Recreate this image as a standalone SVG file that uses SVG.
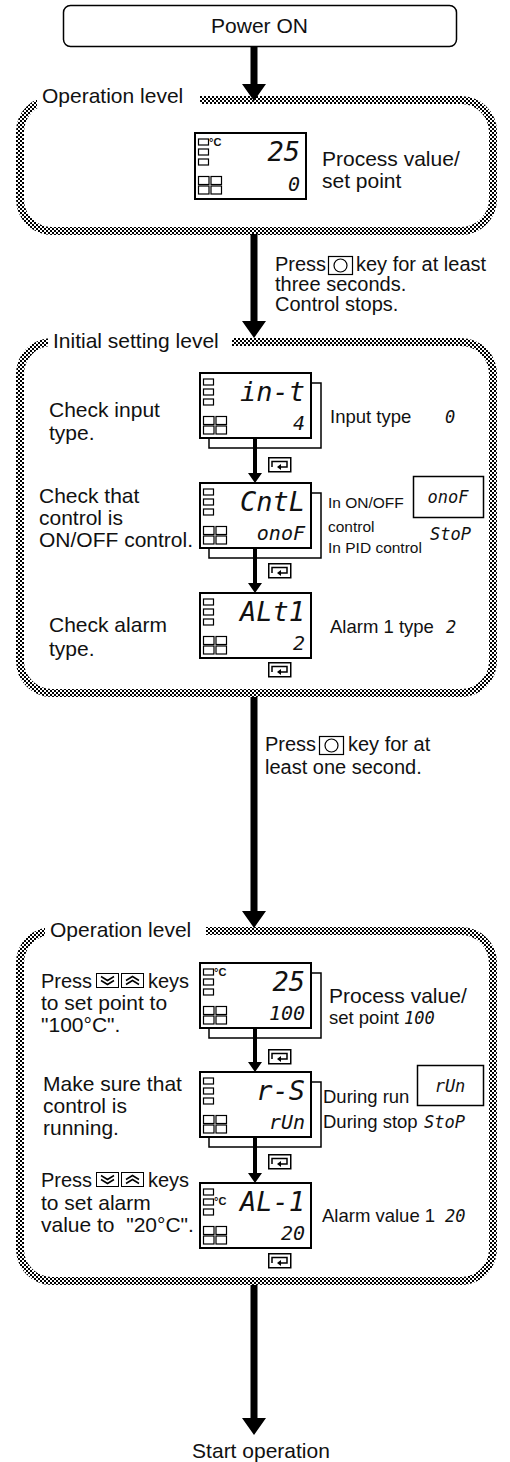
<svg xmlns="http://www.w3.org/2000/svg" width="510" height="1462" viewBox="0 0 510 1462">
<style>
.box{fill:#fff;stroke:#000;stroke-width:2}
.sh{fill:none;stroke:#000;stroke-width:1.5}
.lvl{fill:none;stroke:url(#dots);stroke-width:8}
.mask{fill:#fff}
.ind rect{fill:#fff;stroke:#000;stroke-width:1.2}
.t{font-family:"Liberation Sans",Arial,sans-serif;font-size:21px;fill:#111}
.p{font-size:20px}
.r{font-size:18.5px}
.sm{font-size:15.5px}
.sg{font-family:"DejaVu Sans Mono",monospace;font-style:oblique;fill:#111}
.big{font-size:27px;text-anchor:end}
.bot{font-size:20px;text-anchor:end}
.lab{font-size:17px}
.deg{font-family:"Liberation Sans",Arial,sans-serif;font-size:11px;font-weight:bold;fill:#111}
.arr{fill:#000}
</style>
<defs>
<pattern id="dots" width="4" height="4" patternUnits="userSpaceOnUse"><rect width="4" height="4" fill="#fff"/><rect width="2" height="2" fill="#000"/><rect x="2" y="2" width="2" height="2" fill="#000"/></pattern>
<g id="cyc"><rect x="0.75" y="0.75" width="22" height="14" fill="#fff" stroke="#000" stroke-width="1.5"/><path d="M4 10V4.5H19V10H12" fill="none" stroke="#000" stroke-width="1.5"/><path d="M13 7L9 10L13 13Z" fill="#000"/></g>
<g id="okey"><rect x="0.5" y="0.5" width="24" height="18" fill="#fff" stroke="#000" stroke-width="1.2"/><circle cx="12.5" cy="9.5" r="6.5" fill="none" stroke="#000" stroke-width="1.2"/></g>
<g id="dn"><rect x="0.5" y="0.5" width="22" height="14" fill="#fff" stroke="#000" stroke-width="1"/><path d="M5 3.5L11.5 7.5L18 3.5M5 7.5L11.5 11.5L18 7.5" fill="none" stroke="#000" stroke-width="1.5"/></g>
<g id="up"><rect x="0.5" y="0.5" width="22" height="14" fill="#fff" stroke="#000" stroke-width="1"/><path d="M5 7.5L11.5 3.5L18 7.5M5 11.5L11.5 7.5L18 11.5" fill="none" stroke="#000" stroke-width="1.5"/></g>
<g id="ind" class="ind"><rect x="3.5" y="6" width="10" height="6"/><rect x="3.5" y="16" width="10" height="6"/><rect x="3.5" y="26" width="10" height="6"/><rect x="3.5" y="43.5" width="10.5" height="8"/><rect x="16" y="43.5" width="10.5" height="8"/><rect x="3.5" y="53" width="10.5" height="8"/><rect x="16" y="53" width="10.5" height="8"/></g>
</defs>
<rect width="510" height="1462" fill="#fff"/>

<!-- level frames -->
<g id="level-operation-1">
<rect class="lvl" x="20" y="100" width="473" height="131" rx="32"/>
<rect class="mask" x="37" y="92" width="163" height="16"/>
<text class="t" x="42" y="103">Operation level</text>
</g>
<g id="level-initial">
<rect class="lvl" x="20" y="342" width="473" height="351" rx="32"/>
<rect class="mask" x="48" y="334" width="184" height="16"/>
<text class="t" x="53" y="348">Initial setting level</text>
</g>
<g id="level-operation-2">
<rect class="lvl" x="20" y="931" width="473" height="350" rx="32"/>
<rect class="mask" x="45" y="923" width="161" height="16"/>
<text class="t" x="50" y="937">Operation level</text>
</g>

<!-- connectors -->
<g id="connectors">
<path class="arr" d="M250.5 46H257.5V84H266L254 101L242 84H250.5Z"/>
<path class="arr" d="M250.5 234H257.5V321H266L254 338L242 321H250.5Z"/>
<path class="arr" d="M250.5 697H257.5V911H266L254 928L242 911H250.5Z"/>
<path class="arr" d="M250.5 1285H257.5V1418H266L254 1435L242 1418H250.5Z"/>
<path class="arr" d="M253 438H257V473H262L255 483L248 473H253Z"/>
<path class="arr" d="M253 548H257V583H262L255 593L248 583H253Z"/>
<path class="arr" d="M253 1028H257V1062H262L255 1072L248 1062H253Z"/>
<path class="arr" d="M253 1137H257V1173H262L255 1183L248 1173H253Z"/>
<use href="#cyc" x="268" y="457"/>
<use href="#cyc" x="268" y="563"/>
<use href="#cyc" x="268" y="662"/>
<use href="#cyc" x="268" y="1049"/>
<use href="#cyc" x="268" y="1154"/>
<use href="#cyc" x="268" y="1253"/>
<text class="t p" x="275" y="271">Press</text><use href="#okey" x="328" y="256"/><text class="t p" x="356" y="271">key for at least</text>
<text class="t p" x="275" y="291">three seconds.</text>
<text class="t p" x="275" y="311">Control stops.</text>
<text class="t p" x="265" y="751">Press</text><use href="#okey" x="319" y="736"/><text class="t p" x="348" y="751">key for at</text>
<text class="t p" x="265" y="774">least one second.</text>
</g>

<g id="power-on">
<rect x="63.5" y="5.5" width="393" height="41" rx="7" fill="#fff" stroke="#000" stroke-width="1.5"/>
<text class="t" x="259.5" y="33" text-anchor="middle">Power ON</text>
</g>

<g id="op1-display">
<rect class="box" x="195" y="133" width="111" height="66"/>
<use href="#ind" x="195" y="133"/>
<text class="deg" x="209" y="146">°C</text>
<text class="sg big" x="300" y="161">25</text>
<text class="sg bot" x="300" y="191">0</text>
<text class="t" x="322" y="166">Process value/</text>
<text class="t" x="322" y="188">set point</text>
</g>

<g id="input-type">
<path class="sh" d="M311 383H321V448H209V438"/>
<rect class="box" x="200" y="373" width="111" height="65"/>
<use href="#ind" x="200" y="373"/>
<text class="sg big" x="305" y="401">in-t</text>
<text class="sg bot" x="305" y="430">4</text>
<text class="t" x="49" y="417">Check input</text>
<text class="t" x="49" y="440">type.</text>
<text class="t r" x="330" y="423">Input type</text>
<text class="sg lab" x="445" y="423">0</text>
</g>

<g id="control-mode">
<path class="sh" d="M311 493H321V558H209V548"/>
<rect class="box" x="200" y="483" width="111" height="65"/>
<use href="#ind" x="200" y="483"/>
<text class="sg big" x="305" y="511">CntL</text>
<text class="sg bot" x="305" y="540">onoF</text>
<text class="t" x="39" y="503">Check that</text>
<text class="t" x="39" y="525">control is</text>
<text class="t" x="39" y="547">ON/OFF control.</text>
<text class="t sm" x="328" y="508">In ON/OFF</text>
<text class="t sm" x="328" y="532">control</text>
<text class="t sm" x="328" y="553">In PID control</text>
<rect x="413.5" y="476.5" width="70" height="41" fill="#fff" stroke="#000" stroke-width="1.5"/>
<text class="sg lab" x="448" y="503" text-anchor="middle">onoF</text>
<text class="sg lab" x="430" y="540">StoP</text>
</g>

<g id="alarm-type">
<rect class="box" x="200" y="593" width="111" height="65"/>
<use href="#ind" x="200" y="593"/>
<text class="sg big" x="305" y="621">ALt1</text>
<text class="sg bot" x="305" y="650">2</text>
<text class="t" x="49" y="632">Check alarm</text>
<text class="t" x="49" y="656">type.</text>
<text class="t r" x="330" y="633">Alarm 1 type</text>
<text class="sg lab" x="446" y="633">2</text>
</g>

<g id="set-point">
<path class="sh" d="M311 973H321V1038H209V1028"/>
<rect class="box" x="200" y="963" width="111" height="65"/>
<use href="#ind" x="200" y="963"/>
<text class="deg" x="214" y="976">°C</text>
<text class="sg big" x="305" y="991">25</text>
<text class="sg bot" x="305" y="1020">100</text>
<text class="t p" x="41" y="988">Press</text><use href="#dn" x="96" y="973"/><use href="#up" x="121" y="973"/><text class="t p" x="148" y="988">keys</text>
<text class="t" x="41" y="1010">to set point to</text>
<text class="t" x="41" y="1032">"100°C".</text>
<text class="t" x="329" y="1003">Process value/</text>
<text class="t r" x="329" y="1024">set point</text>
<text class="sg lab" x="404" y="1024">100</text>
</g>

<g id="run-stop">
<path class="sh" d="M311 1082H321V1147H209V1137"/>
<rect class="box" x="200" y="1072" width="111" height="65"/>
<use href="#ind" x="200" y="1072"/>
<text class="sg big" x="305" y="1100">r-S</text>
<text class="sg bot" x="305" y="1129">rUn</text>
<text class="t" x="43" y="1091">Make sure that</text>
<text class="t" x="43" y="1113">control is</text>
<text class="t" x="43" y="1135">running.</text>
<text class="t r" x="323" y="1103">During run</text>
<rect x="417.5" y="1065.5" width="66" height="40" fill="#fff" stroke="#000" stroke-width="1.5"/>
<text class="sg lab" x="450" y="1092" text-anchor="middle">rUn</text>
<text class="t r" x="323" y="1128">During stop</text>
<text class="sg lab" x="424" y="1128">StoP</text>
</g>

<g id="alarm-value">
<rect class="box" x="200" y="1183" width="111" height="65"/>
<use href="#ind" x="200" y="1183"/>
<text class="deg" x="214" y="1205">°C</text>
<text class="sg big" x="305" y="1211">AL-1</text>
<text class="sg bot" x="305" y="1240">20</text>
<text class="t p" x="41" y="1187">Press</text><use href="#dn" x="96" y="1172"/><use href="#up" x="121" y="1172"/><text class="t p" x="148" y="1187">keys</text>
<text class="t" x="41" y="1210">to set alarm</text>
<text class="t" x="41" y="1232" xml:space="preserve">value to  "20°C".</text>
<text class="t r" x="322" y="1222">Alarm value 1</text>
<text class="sg lab" x="445" y="1222">20</text>
</g>

<g id="start-operation">
<text class="t" x="261" y="1458" text-anchor="middle">Start operation</text>
</g>
</svg>
